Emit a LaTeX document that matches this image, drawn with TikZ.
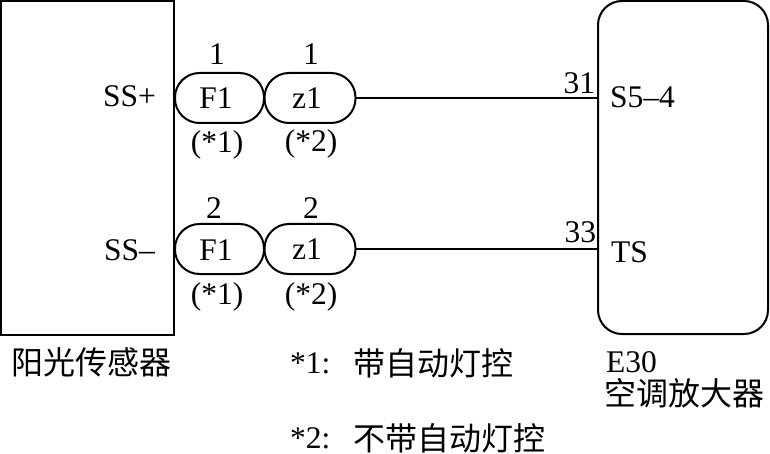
\documentclass[tikz,border=0pt]{standalone}
\usepackage{fontspec}
\setmainfont{Liberation Serif}
\newfontfamily\cjk{Noto Sans CJK SC}
\begin{document}
\begin{tikzpicture}[x=1pt,y=-1pt,
  every node/.style={inner sep=0pt,outer sep=0pt,font=\fontsize{31.5}{33}\selectfont},
  box/.style={draw,line width=2.2pt,rectangle},
  pill/.style={draw,line width=2pt,rectangle,rounded corners=24.5pt,minimum height=50pt},
  wire/.style={line width=2pt},
  cn/.style={font=\fontsize{32}{34}\selectfont\cjk}]
\useasboundingbox (0,0) rectangle (770,454);
\node[box,anchor=north west,minimum width=172.5pt,minimum height=333.5pt] (sensor) at (1.2,1.2) {};
\node[box,line width=2pt,anchor=north west,minimum width=170pt,minimum height=333pt,rounded corners=24pt] (amp) at (598,1) {};
\node[pill,minimum width=89pt] (f1a) at (219.5,98) {};
\node[pill,minimum width=91pt] (z1a) at (310,98) {};
\node[pill,minimum width=89pt] (f1b) at (219.5,249) {};
\node[pill,minimum width=91pt] (z1b) at (310,249) {};
\node (f1at) at (216,98) {F1};
\node (z1at) at (307,98) {z1};
\node (f1bt) at (216,250) {F1};
\node (z1bt) at (307,249) {z1};
\coordinate (p1) at (amp.west |- z1a.east);
\coordinate (p2) at (amp.west |- z1b.east);
\draw[wire] (z1a.east) -- (p1);
\draw[wire] (z1b.east) -- (p2);
\node[anchor=east] (ssp) at (156,96) {SS+};
\node[anchor=east] (ssm) at (155,250) {SS–};
\node (n1a) at (217,54) {1};
\node (n1b) at (311,54) {1};
\node (n2a) at (214,208) {2};
\node (n2b) at (311,208) {2};
\node (s1a) at (217,145) {(*1)};
\node (s2a) at (311,144) {(*2)};
\node (s1b) at (217,297) {(*1)};
\node (s2b) at (311,297) {(*2)};
\node[anchor=east] (n31) at (595,83) {31};
\node[anchor=east] (n33) at (596,232) {33};
\node[anchor=west] (s54) at (610,97) {S5–4};
\node[anchor=west] (ts) at (611,252) {TS};
\node[anchor=west,cn] (lsensor) at (11,362) {阳光传感器};
\node[anchor=west] (e30) at (606,362) {E30};
\node[anchor=west,cn] (lamp) at (604,393) {空调放大器};
\node[anchor=west] (k1) at (290,363) {*1:};
\node[anchor=west,cn] (t1) at (353,363) {带自动灯控};
\node[anchor=west] (k2) at (290,438) {*2:};
\node[anchor=west,cn] (t2) at (353,438) {不带自动灯控};
\end{tikzpicture}
\end{document}
